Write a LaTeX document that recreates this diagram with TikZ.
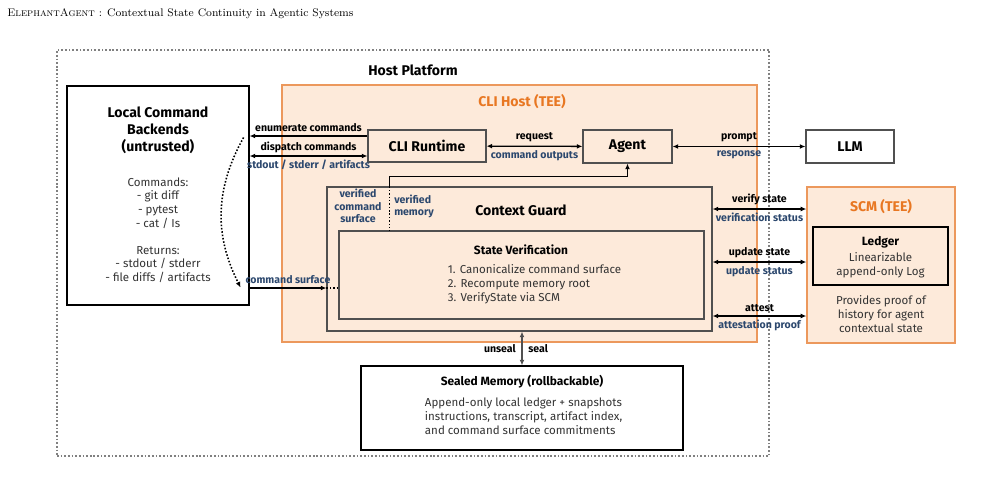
\documentclass[tikz,border=0pt]{standalone}
\usepackage{fontspec}
\newfontfamily\diagfont{Fira Sans}
\usetikzlibrary{arrows.meta,calc,positioning}
\definecolor{teeorange}{RGB}{232,119,34}
\definecolor{teefill}{RGB}{253,234,218}
\definecolor{teeborder}{RGB}{236,152,92}
\definecolor{labelblue}{RGB}{44,72,110}
\definecolor{boxgray}{RGB}{80,80,80}
\tikzset{
  box/.style={draw=boxgray, line width=0.8pt, inner sep=0pt},
  teebox/.style={draw=teeborder, fill=teefill, line width=0.9pt, inner sep=0pt},
  boxtitle/.style={font=\diagfont\bfseries\fontsize{10}{12}\selectfont, align=center},
  subtitle/.style={font=\diagfont\bfseries\fontsize{8.5}{10}\selectfont, align=center},
  bodytext/.style={font=\diagfont\fontsize{8.2}{9.8}\selectfont, text=black!80, align=center},
  reqlabel/.style={font=\diagfont\bfseries\fontsize{7.5}{8.9}\selectfont, inner sep=2.6pt},
  replabel/.style={reqlabel, text=labelblue},
  link/.style={line width=0.9pt, -{Latex[length=4pt,width=3.5pt]}},
  duplex/.style={line width=0.9pt, {Latex[length=4pt,width=3.5pt]}-{Latex[length=4pt,width=3.5pt]}},
  dotlink/.style={line width=1.1pt, dash pattern=on 1.1pt off 1.3pt},
}

\begin{document}
\begin{tikzpicture}[x=0.025cm, y=-0.025cm]
    \useasboundingbox (0,0) rectangle (995,483);
    \node[anchor=base west, font=\fontsize{7.8}{10}\selectfont, inner sep=0pt] (header) at (7,16)
        {\textsc{ElephantAgent} : Contextual State Continuity in Agentic Systems};

    % platform and enclaves
    \node[draw=gray, line width=1.2pt, dash pattern=on 1.2pt off 1.4pt, minimum width=17.8cm, minimum height=10.15cm] (host) at (413,253) {};
    \node[boxtitle] (hostlabel) at (413,70) {Host Platform};
    \node[teebox, minimum width=11.875cm, minimum height=6.425cm] (clihost) at (519.5,213.5) {};
    \node[boxtitle, text=teeorange] (clihostlabel) at (522,102) {CLI Host (TEE)};

    % local backends
    \node[box, draw=black, fill=white, minimum width=4.55cm, minimum height=5.475cm] (backend) at (158,195.5) {};
    \node[boxtitle] (backendtitle) at (158,130) {Local Command\\Backends\\(untrusted)};
    \node[bodytext] (backendcmds) at (158,203) {Commands:\\- git diff\\- pytest\\- cat / Is};
    \node[bodytext] (backendrets) at (158,264.5) {Returns:\\- stdout / stderr\\- file diffs / artifacts};

    % runtime, agent, model
    \node[box, minimum width=2.95cm, minimum height=0.8cm, boxtitle] (runtime) at (427,146) {CLI Runtime};
    \node[box, minimum width=2.225cm, minimum height=0.825cm, boxtitle] (agent) at (627.5,146.5) {Agent};
    \node[box, fill=white, minimum width=2.2cm, minimum height=0.825cm, boxtitle] (llm) at (850,146.5) {LLM};

    % context guard
    \node[box, minimum width=9.625cm, minimum height=3.6cm] (guard) at (519.5,259) {};
    \node[boxtitle] (guardtitle) at (521,210) {Context Guard};
    \node[box, minimum width=9.125cm, minimum height=2.2cm] (verif) at (521.5,275) {};
    \node[subtitle] (veriftitle) at (521,250) {State Verification};
    \node[bodytext, align=left, anchor=west] (verifsteps) at (443,284.5)
        {1. Canonicalize command surface\\2. Recompute memory root\\3. VerifyState via SCM};
    \node[replabel, align=center, inner sep=0pt] (surfacelabel) at (358,206) {verified\\command\\surface};
    \node[replabel, align=left, inner sep=0pt] (memorylabel) at (414,206.5) {verified\\memory};

    % SCM
    \node[teebox, minimum width=3.7cm, minimum height=3.9cm] (scm) at (881,265) {};
    \node[boxtitle, text=teeorange] (scmlabel) at (881,207) {SCM (TEE)};
    \node[box, draw=black, minimum width=3.375cm, minimum height=1.45cm] (ledger) at (880.5,256) {};
    \node[subtitle] (ledgertitle) at (880.5,242) {Ledger};
    \node[bodytext] (ledgerbody) at (880.5,265.5) {Linearizable\\append-only Log};
    \node[bodytext] (scmbody) at (881,314) {Provides proof of\\history for agent\\contextual state};

    % sealed memory
    \node[box, draw=black, fill=white, minimum width=8.05cm, minimum height=2.1cm] (sealed) at (522,408) {};
    \node[subtitle] (sealedtitle) at (522,382) {Sealed Memory (rollbackable)};
    \node[bodytext, align=left, anchor=west] (sealedbody) at (420,416)
        {Append-only local ledger + snapshots\\instructions, transcript, artifact index,\\and command surface commitments};

    % runtime <-> backends
    \coordinate (enumY) at ($(runtime.west)+(0,-10)$);
    \draw[link] (enumY) -- (enumY -| backend.east) node[midway, above, reqlabel] {enumerate commands};
    \coordinate (dispY) at ($(runtime.west)+(0,10)$);
    \draw[duplex] (dispY -| backend.east) -- (dispY)
        node[midway, above, reqlabel, inner sep=2pt] {dispatch commands}
        node[midway, below, replabel, inner sep=2pt] {stdout / stderr / artifacts};
    \draw[dotlink, -{Latex[length=4pt,width=3.5pt]}] ($(backend.east)+(-6,-58)$) to[bend right=28] ($(backend.east)+(-9,92)$);

    \draw[duplex] (runtime) -- (agent)
        node[midway, above, reqlabel] {request}
        node[midway, below, replabel] {command outputs};
    \draw[duplex] (agent) -- (llm)
        node[midway, above, reqlabel] {prompt}
        node[midway, below, replabel] {response};

    % guard taps
    \coordinate (guardtap) at ($(guard.north west)+(63,0)$);
    \draw[link] (guardtap) |- ($(agent.south)+(0,13)$) -- (agent.south);
    \draw[dotlink] (guardtap) -- (guardtap |- verif.north);
    \coordinate (surfY) at ($(verif.west)+(0,13)$);
    \draw[link] (surfY -| backend.east) -- (surfY -| guard.west) node[midway, above, replabel] {command surface};
    \draw[dotlink] (surfY -| guard.west) -- (surfY);

    % guard <-> SCM
    \foreach \dy/\req/\rep in {-50/verify state/verification status, 3/update state/update status, 57/attest/attestation proof} {
        \coordinate (scmY) at ($(guard.east)+(0,\dy)$);
        \draw[duplex] (scmY) -- (scmY -| scm.west)
            node[midway, above, reqlabel] {\req}
            node[midway, below, replabel] {\rep};
    }

    \draw[duplex, draw=boxgray] (sealed.north) -- (sealed.north |- guard.south)
        node[midway, left, reqlabel, inner sep=4pt] {unseal}
        node[midway, right, reqlabel, inner sep=4pt] {seal};
\end{tikzpicture}
\end{document}
